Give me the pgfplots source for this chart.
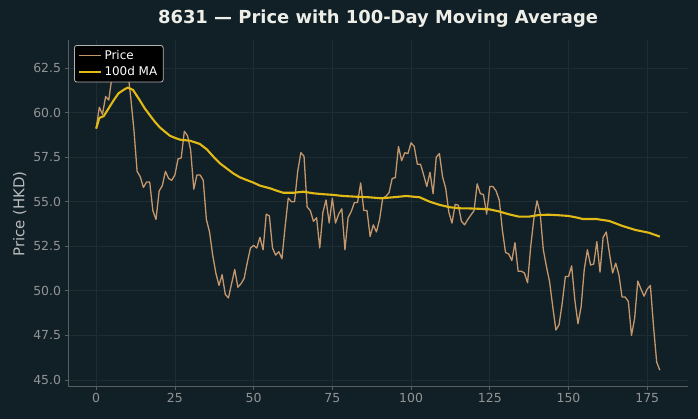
\documentclass[border=0pt]{standalone}
\usepackage{fontspec}
\setmainfont{DejaVu Sans}
\usepackage{pgfplots}
\pgfplotsset{compat=1.18}
\usepackage{pgfplotstable}

\definecolor{bg}{RGB}{17,31,38}
\definecolor{gridc}{RGB}{30,44,51}
\definecolor{spine}{RGB}{88,94,98}
\definecolor{tickc}{RGB}{145,148,150}
\definecolor{labelc}{RGB}{185,188,190}
\definecolor{titlec}{RGB}{238,238,232}
\definecolor{pricec}{RGB}{196,152,108}
\definecolor{mac}{RGB}{226,186,22}
\definecolor{legedge}{RGB}{180,180,180}

% daily closing prices
\pgfplotstableread{
d p
0 59.1
1 60.3
2 59.9
3 60.9
4 60.7
5 62.0
6 62.6
7 62.3
8 63.0
9 63.1
10 62.4
11 60.8
12 59.0
13 56.7
14 56.4
15 55.8
16 56.1
17 56.1
18 54.5
19 54.0
20 55.6
21 55.9
22 56.7
23 56.3
24 56.2
25 56.5
26 57.4
27 57.45
28 58.95
29 58.7
30 57.9
31 55.7
32 56.5
33 56.5
34 56.2
35 54.0
36 53.3
37 52.0
38 51.0
39 50.3
40 50.9
41 49.8
42 49.6
43 50.4
44 51.2
45 50.2
46 50.4
47 50.7
48 51.6
49 52.4
50 52.55
51 52.4
52 53.0
53 52.3
54 54.3
55 54.2
56 52.4
57 52.0
58 52.2
59 51.8
60 53.6
61 55.2
62 55.0
63 55.0
64 56.7
65 57.75
66 57.55
67 54.7
68 54.5
69 53.9
70 54.1
71 52.4
72 54.4
73 55.1
74 53.8
75 55.2
76 53.8
77 54.3
78 54.6
79 52.3
80 54.1
81 54.45
82 54.95
83 54.95
84 56.05
85 54.5
86 54.5
87 53.05
88 53.7
89 53.3
90 54.0
91 55.2
92 55.3
93 55.5
94 56.3
95 56.35
96 58.1
97 57.3
98 57.75
99 57.7
100 58.3
101 58.1
102 57.1
103 57.1
104 56.5
105 55.85
106 56.65
107 55.45
108 57.5
109 57.7
110 56.4
111 55.75
112 54.4
113 53.8
114 54.85
115 54.8
116 53.9
117 53.7
118 54.0
119 54.25
120 54.5
121 56.0
122 55.45
123 55.4
124 54.3
125 55.85
126 55.85
127 55.6
128 55.1
129 53.4
130 52.15
131 52.07
132 51.7
133 52.7
134 51.1
135 51.1
136 51.0
137 50.45
138 52.5
139 54.05
140 55.05
141 54.35
142 52.3
143 51.35
144 50.5
145 49.1
146 47.8
147 48.1
148 49.3
149 50.8
150 50.8
151 51.4
152 49.5
153 48.15
154 49.1
155 51.2
156 52.3
157 51.45
158 51.5
159 52.75
160 51.05
161 53.0
162 53.3
163 52.1
164 51.0
165 51.55
166 50.9
167 49.65
168 49.65
169 49.4
170 47.5
171 48.45
172 50.55
173 50.1
174 49.7
175 50.1
176 50.3
177 48.0
178 46.0
179 45.55
}\pricetable

% 100-day moving average
\pgfplotstableread{
d m
0 59.1
1 59.7
2.4 59.8
4 60.25
5.6 60.7
7.1 61.08
8.7 61.27
10 61.4
11.7 61.27
13.8 60.7
15.4 60.24
17 59.86
18.6 59.49
20.2 59.17
21.8 58.93
23.4 58.7
25 58.58
26.6 58.48
29.8 58.42
32.9 58.24
35.1 57.94
37.2 57.53
39.3 57.15
41.4 56.87
43.5 56.59
45.6 56.37
47.7 56.22
49.8 56.08
52 55.9
55.2 55.75
57.3 55.62
59.4 55.5
62.6 55.5
65.8 55.56
69 55.47
72.1 55.42
75.3 55.38
78.4 55.32
82.4 55.28
86.5 55.25
90.5 55.19
94.5 55.25
98.5 55.32
101.3 55.27
102.7 55.25
105.9 55.0
109.1 54.82
112.2 54.69
115.4 54.63
118.6 54.62
121.8 54.6
124.9 54.57
128 54.45
131.1 54.29
134.3 54.16
137.4 54.16
140.5 54.25
143.7 54.27
146.8 54.24
150 54.2
152.9 54.1
154.5 54.03
158.7 54.03
162.9 53.92
167.1 53.64
171.3 53.41
175.5 53.26
179 53.04
}\matable

\begin{document}
\begin{tikzpicture}[x=1bp,y=1bp]
\fill[bg] (0,0) rectangle (698,419);
\begin{axis}[
  at={(68bp,33bp)}, anchor=south west,
  scale only axis, width=620bp, height=346bp,
  xmin=-8.95, xmax=187.95, ymin=44.66, ymax=64.07,
  axis x line*=bottom, axis y line*=left,
  axis line style={spine, line width=0.8bp},
  xtick={0,25,...,175},
  ytick={45,47.5,...,62.5},
  tick align=outside,
  major tick length=3.5bp,
  tick style={spine, line width=0.8bp},
  grid=major,
  major grid style={gridc, line width=0.8bp},
  /pgf/number format/assume math mode=true,
  ticklabel style={font=\fontsize{12.5}{14}\selectfont, text=tickc},
  yticklabel style={/pgf/number format/.cd, fixed, fixed zerofill, precision=1},
  scaled y ticks=false,
  ylabel={Price (HKD)},
  ylabel style={font=\fontsize{15}{17}\selectfont, text=labelc, xshift=-1bp},
  legend style={at={(0.0097,0.9855)}, anchor=north west, fill=black,
    draw=legedge, rounded corners=2.5bp, text=white,
    font=\fontsize{12}{14}\selectfont, inner xsep=4bp, inner ysep=3bp,
    row sep=1.5bp, line width=0.8bp},
  legend cell align=left,
  legend image code/.code={\draw[#1] (0bp,0bp) -- (22bp,0bp);},
]
\addplot[pricec, line width=1.3bp, line join=round] table[x=d, y=p] {\pricetable};
\addlegendentry{Price}
\addplot[mac, line width=2.1bp, line join=round] table[x=d, y=m] {\matable};
\addlegendentry{100d MA}
\end{axis}
\node[text=titlec, font=\bfseries\fontsize{18}{21}\selectfont] at (378,400) {8631 — Price with 100-Day Moving Average};
\pgfresetboundingbox
\useasboundingbox (0,0) rectangle (698,419);
\end{tikzpicture}
\end{document}
